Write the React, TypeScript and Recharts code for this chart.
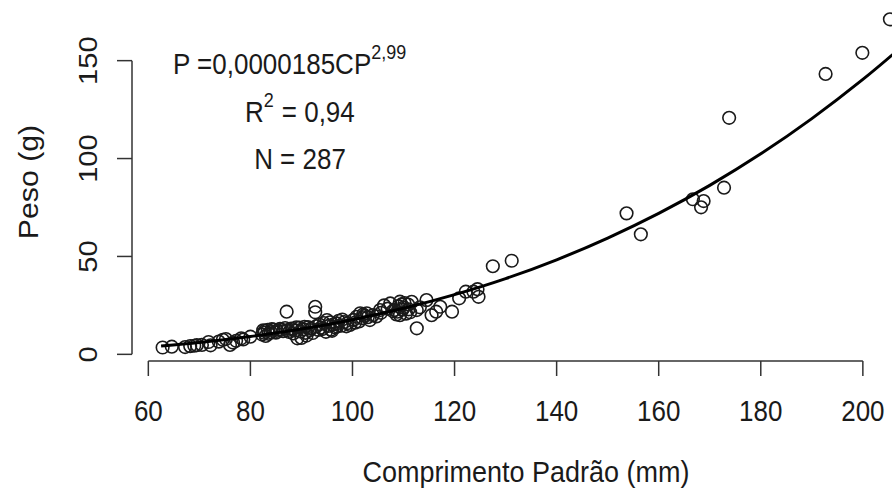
import React from 'react';
import { ScatterChart, Scatter, XAxis, YAxis, ReferenceLine, Customized } from 'recharts';

// comprimento padrão (mm) e peso (g) dos exemplares
const CP = [
    62.8, 64.6, 67.2, 68.2, 69.0, 69.5, 70.5, 71.8, 72.2, 73.8, 74.6, 75.2, 76.0, 76.6, 77.2, 78.2, 78.6, 80.0,
    82.3, 82.5, 82.7, 83.0, 83.4, 84.0, 84.5, 85.2, 85.8, 86.4, 87.1, 87.3, 88.0, 88.4, 88.8, 89.2, 89.6, 90.0,
    90.4, 90.8, 91.3, 91.7, 92.2, 92.7, 92.7, 92.9, 93.3, 93.8, 94.4, 94.8, 95.0, 95.3, 95.8, 96.2, 96.6, 96.9,
    97.3, 97.8, 98.4, 99.0, 99.5, 100.2, 100.8, 101.3, 101.5, 101.9, 102.4, 102.8, 103.4, 104.0, 104.7, 105.4,
    105.6, 106.2, 106.9, 107.4, 107.9, 108.3, 108.6, 109.0, 109.3, 109.3, 109.8, 110.2, 110.5, 110.9, 111.3,
    111.6, 112.6, 112.6, 113.2, 114.5, 115.5, 116.4, 117.2, 119.5, 120.9, 122.2, 123.7, 124.5, 124.7, 127.5,
    131.2, 153.7, 156.5, 166.7, 168.3, 168.8, 172.8, 173.8, 192.7, 199.9, 205.3,
    82.8, 83.6, 84.2, 85.0, 86.0, 86.8, 87.6, 88.2, 89.0, 89.8, 90.6, 91.0, 91.9, 93.5, 94.1, 95.6, 96.0,
    97.0, 98.0, 98.8, 100.5, 102.1, 103.0, 108.8, 110.0, 111.0, 109.6,
];
const PESO = [
    3.5, 3.9, 3.7, 4.2, 4.4, 4.7, 4.8, 6.3, 4.6, 6.5, 7.4, 7.8, 4.8, 6.0, 6.9, 8.2, 7.6, 9.0,
    10.1, 12.3, 11.0, 9.4, 12.5, 11.3, 12.6, 12.0, 13.0, 11.8, 21.8, 12.4, 13.2, 10.7, 12.2, 8.2, 13.6, 8.4,
    12.8, 11.0, 13.9, 12.4, 10.9, 24.3, 21.5, 14.4, 12.5, 13.6, 16.0, 11.5, 17.5, 14.5, 12.6, 15.2, 13.8, 15.8,
    17.1, 14.6, 16.5, 15.9, 15.0, 17.6, 19.2, 16.8, 21.0, 18.5, 19.6, 21.0, 17.5, 20.0, 19.4, 22.6,
    21.2, 25.0, 23.3, 26.0, 22.1, 22.6, 20.4, 24.6, 26.9, 20.0, 22.8, 26.2, 20.8, 25.4, 21.5,
    26.8, 13.3, 22.6, 24.0, 27.7, 20.0, 21.8, 24.3, 21.8, 28.6, 32.0, 32.0, 33.3, 29.4, 45.0,
    47.8, 72.0, 61.3, 79.2, 75.1, 78.3, 85.1, 120.8, 143.2, 154.0, 171.1,
    12.0, 10.5, 12.9, 11.1, 12.5, 13.4, 11.4, 12.9, 13.8, 11.7, 14.1, 9.6, 13.2, 15.2, 12.9, 16.4, 12.0,
    14.2, 17.8, 14.3, 16.2, 20.4, 19.0, 21.8, 23.9, 23.0, 25.5,
];

// curva ajustada
const FIT_CP = [62.5, 70, 80, 90, 100, 110, 120, 130, 140, 150, 160, 170, 180, 190, 200, 211];
const FIT_PESO = [4.3, 6.1, 9.1, 12.9, 17.7, 23.5, 30.5, 38.7, 48.3, 59.4, 72.0, 86.3, 102.4, 120.4, 140.4, 164.7];

const X_TICKS = [60, 80, 100, 120, 140, 160, 180, 200];
const Y_TICKS = [0, 50, 100, 150];
const X_DOMAIN: [number, number] = [56.8, 211];
const Y_DOMAIN: [number, number] = [-3.4, 177.4];

const points = CP.map((cp, i) => ({ cp, peso: PESO[i] }));
const fit = FIT_CP.map((cp, i) => ({ cp, peso: FIT_PESO[i] }));

const FONT = '"Liberation Sans", Arial, sans-serif';
const INK = '#1a1a1a';
const STRETCH = 1.12;

const XTick: React.FC<any> = ({ x, y, payload }) => (
    <g transform={`translate(${x},${y + 45}) scale(1,${STRETCH})`}>
        <text textAnchor="middle" fontFamily={FONT} fontSize={26} fill={INK}>{payload.value}</text>
    </g>
);

const YTick: React.FC<any> = ({ x, y, payload }) => (
    <g transform={`translate(${x - 20},${y}) rotate(-90) scale(${STRETCH},1)`}>
        <text textAnchor="middle" fontFamily={FONT} fontSize={26} fill={INK}>{payload.value}</text>
    </g>
);

const Circle: React.FC<any> = ({ cx, cy }) => (
    <circle cx={cx} cy={cy} r={6.3} fill="none" stroke={INK} strokeWidth={1.6} />
);

const Labels = () => (
    <g fontFamily={FONT} fill={INK}>
        <g transform={`translate(173,74) scale(1,${STRETCH})`}>
            <text fontSize={26}>
                P =0,0000185CP<tspan fontSize={18} dy={-13}>2,99</tspan>
            </text>
        </g>
        <g transform={`translate(245,122) scale(1,${STRETCH})`}>
            <text fontSize={26}>
                R<tspan fontSize={18} dy={-13}>2</tspan><tspan dy={13} dx={8}>= 0,94</tspan>
            </text>
        </g>
        <g transform={`translate(300,169) scale(1,${STRETCH})`}>
            <text fontSize={26} textAnchor="middle">N = 287</text>
        </g>
        <g transform={`translate(526,482) scale(1,${STRETCH})`}>
            <text fontSize={27} textAnchor="middle">Comprimento Padrão (mm)</text>
        </g>
        <g transform={`translate(38,182) rotate(-90) scale(${STRETCH},1)`}>
            <text fontSize={27} textAnchor="middle">Peso (g)</text>
        </g>
    </g>
);

const App: React.FC = () => {
    return (
        <div style={{ position: 'absolute', left: 0, top: 0, width: 892, height: 492, overflow: 'hidden', background: '#fff' }}>
            <ScatterChart width={930} height={492} margin={{ top: 7, right: 11, bottom: 0, left: 0 }}>
                <XAxis
                    type="number"
                    dataKey="cp"
                    domain={X_DOMAIN}
                    allowDataOverflow
                    ticks={X_TICKS}
                    interval={0}
                    height={131}
                    axisLine={false}
                    tickSize={15}
                    tickMargin={0}
                    tickLine={{ stroke: '#333', strokeWidth: 1.5 }}
                    tick={<XTick />}
                />
                <YAxis
                    type="number"
                    dataKey="peso"
                    domain={Y_DOMAIN}
                    allowDataOverflow
                    ticks={Y_TICKS}
                    interval={0}
                    width={132}
                    axisLine={false}
                    tickSize={15}
                    tickMargin={0}
                    tickLine={{ stroke: '#333', strokeWidth: 1.5 }}
                    tick={<YTick />}
                />
                <ReferenceLine
                    segment={[{ x: X_TICKS[0], y: Y_DOMAIN[0] }, { x: X_TICKS[X_TICKS.length - 1], y: Y_DOMAIN[0] }]}
                    stroke="#333"
                    strokeWidth={1.5}
                    ifOverflow="visible"
                />
                <ReferenceLine
                    segment={[{ x: X_DOMAIN[0], y: Y_TICKS[0] }, { x: X_DOMAIN[0], y: Y_TICKS[Y_TICKS.length - 1] }]}
                    stroke="#333"
                    strokeWidth={1.5}
                    ifOverflow="visible"
                />
                <Scatter data={points} shape={<Circle />} isAnimationActive={false} />
                <Scatter
                    data={fit}
                    shape={() => null}
                    line={{ stroke: '#000', strokeWidth: 3 }}
                    lineJointType="monotoneX"
                    isAnimationActive={false}
                />
                <Customized component={Labels} />
            </ScatterChart>
        </div>
    );
};

export default App;
